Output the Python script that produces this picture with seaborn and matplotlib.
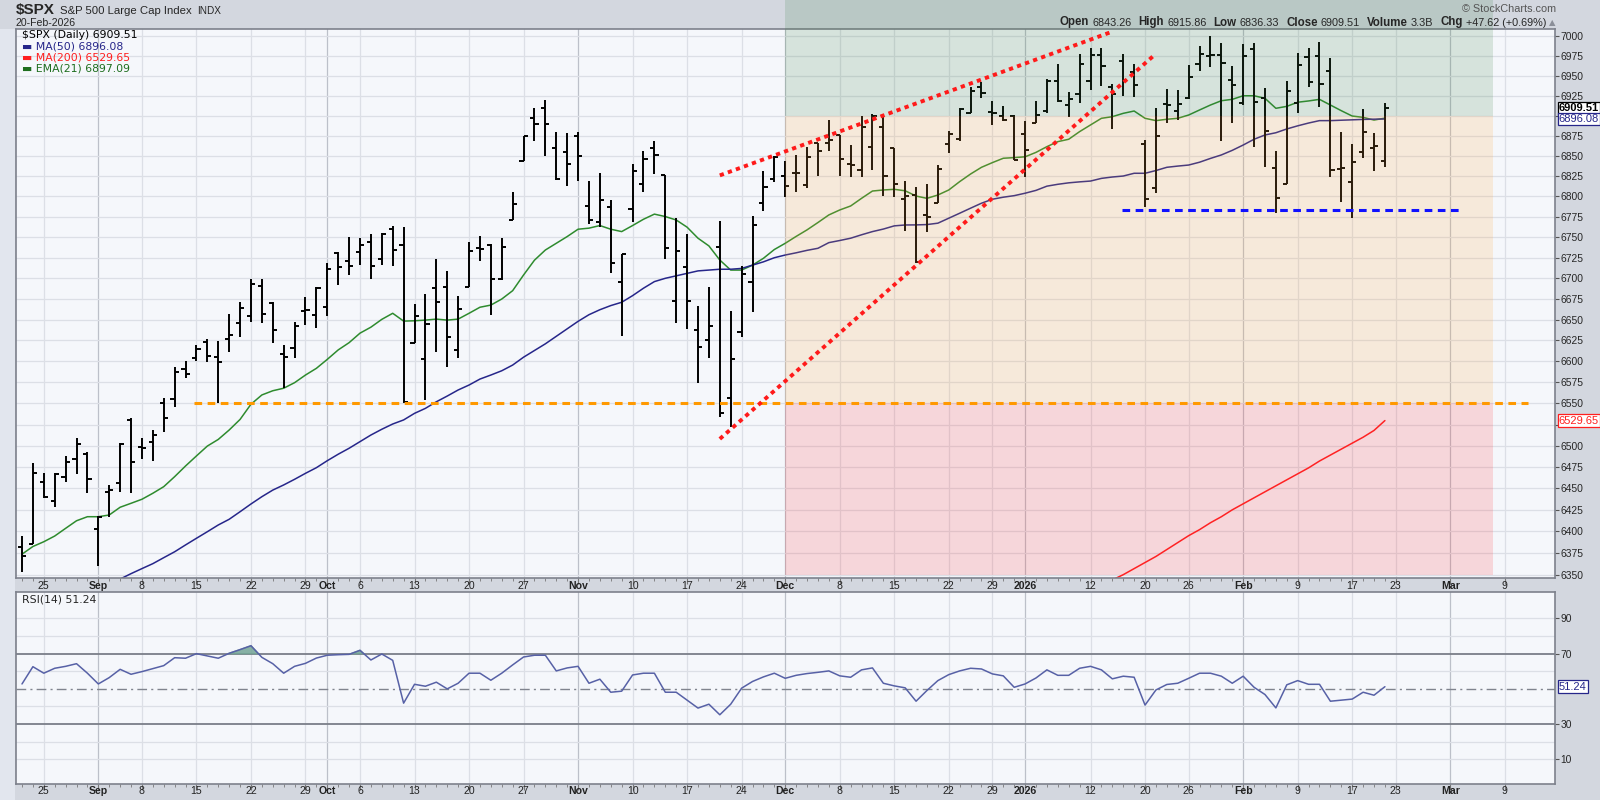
import numpy as np
import pandas as pd
import matplotlib
matplotlib.use("Agg")
import matplotlib.pyplot as plt
import matplotlib.ticker as mticker
import matplotlib.transforms as mtrans
from matplotlib.patches import Rectangle
import seaborn as sns

# ---------------- data ----------------
holidays = ['2025-09-01', '2025-11-27', '2025-12-25', '2026-01-01', '2026-01-19', '2026-02-16']

bar_open = [6381.5, 6385.0, 6457.8, 6435.5, 6462.9, 6484.0, 6490.2, 6402.3, 6446.0, 6456.6,
            6530.0, 6498.0, 6504.0, 6550.0, 6554.7, 6590.5, 6603.6, 6623.6, 6605.5, 6626.4,
            6646.3, 6654.3, 6691.0, 6670.4, 6608.7, 6615.7, 6660.0, 6655.5, 6664.8, 6730.3,
            6721.4, 6732.3, 6744.6, 6723.0, 6759.6, 6740.4, 6622.4, 6602.4, 6688.0, 6689.2,
            6613.7, 6689.2, 6736.5, 6740.4, 6698.8, 6771.0, 6843.8, 6896.9, 6909.4, 6859.5,
            6855.0, 6875.0, 6788.4, 6768.9, 6787.6, 6695.0, 6784.2, 6815.0, 6860.0, 6826.6,
            6672.5, 6713.3, 6637.1, 6625.6, 6737.7, 6556.0, 6635.6, 6695.9, 6792.5, 6821.2,
            6825.0, 6829.4, 6814.3, 6866.6, 6865.7, 6875.8, 6840.2, 6832.6, 6860.7, 6885.6,
            6860.3, 6797.0, 6801.8, 6777.2, 6791.4, 6864.9, 6870.7, 6903.1, 6935.6, 6904.4,
            6899.7, 6900.0, 6877.9, 6891.3, 6906.4, 6943.3, 6913.5, 6927.2, 6943.7, 6976.4,
            6935.6, 6969.0, 6955.0, 6864.6, 6810.3, 6915.0, 6906.4, 6921.9, 6964.7, 6975.0,
            6976.4, 6945.2, 6916.5, 6983.6, 6921.9, 6834.7, 6815.0, 6916.5, 6973.5, 6975.0,
            6956.6, 6833.8, 6818.3, 6854.6, 6860.0, 6843.26]
bar_high = [6394.6, 6479.3, 6467.6, 6468.3, 6487.9, 6508.7, 6492.2, 6417.8, 6453.9, 6502.8,
            6532.3, 6508.7, 6518.5, 6556.0, 6592.9, 6600.4, 6619.6, 6626.4, 6624.0, 6656.7,
            6671.0, 6699.0, 6699.0, 6671.6, 6619.6, 6647.5, 6677.0, 6689.9, 6718.2, 6731.6,
            6750.0, 6748.7, 6753.9, 6754.7, 6763.7, 6762.0, 6668.9, 6681.0, 6723.0, 6708.7,
            6678.5, 6744.6, 6751.5, 6741.7, 6748.7, 6805.5, 6874.8, 6909.4, 6919.8, 6879.3,
            6878.0, 6880.0, 6819.0, 6829.5, 6795.6, 6729.5, 6840.0, 6855.7, 6868.6, 6826.6,
            6773.1, 6753.9, 6666.6, 6689.2, 6769.9, 6660.5, 6714.5, 6776.0, 6831.7, 6850.0,
            6843.2, 6851.3, 6861.6, 6866.6, 6894.7, 6875.8, 6863.6, 6899.7, 6902.3, 6899.7,
            6860.3, 6819.0, 6811.4, 6815.4, 6839.0, 6880.9, 6909.4, 6935.6, 6942.6, 6918.9,
            6912.3, 6901.0, 6894.0, 6918.9, 6946.7, 6964.7, 6930.2, 6977.6, 6984.9, 6984.9,
            6940.0, 6977.6, 6965.6, 6869.9, 6909.4, 6933.3, 6932.5, 6963.5, 6988.1, 7000.8,
            6991.1, 6962.3, 6990.2, 6991.1, 6934.6, 6856.0, 6943.3, 6979.3, 6984.9, 6992.3,
            6972.3, 6880.3, 6864.6, 6908.1, 6878.0, 6915.86]
bar_low = [6353.4, 6385.0, 6438.3, 6428.5, 6457.8, 6466.8, 6444.9, 6360.3, 6417.0, 6446.0,
           6444.2, 6484.0, 6482.4, 6516.5, 6545.3, 6579.8, 6600.7, 6599.5, 6550.0, 6611.6,
           6629.5, 6647.5, 6645.5, 6621.6, 6567.9, 6603.6, 6643.6, 6640.2, 6654.7, 6692.0,
           6704.0, 6716.2, 6699.0, 6716.2, 6715.3, 6551.0, 6621.6, 6553.5, 6611.6, 6593.5,
           6603.6, 6689.2, 6721.4, 6655.5, 6698.0, 6771.0, 6843.8, 6869.0, 6850.0, 6820.3,
           6813.2, 6819.5, 6766.0, 6762.7, 6706.6, 6630.7, 6768.9, 6805.8, 6827.7, 6723.4,
           6646.3, 6638.5, 6573.8, 6603.6, 6533.4, 6522.4, 6629.5, 6659.6, 6782.7, 6818.3,
           6798.9, 6805.8, 6810.2, 6825.3, 6856.0, 6825.6, 6823.6, 6823.6, 6832.6, 6800.8,
           6799.6, 6757.9, 6719.0, 6756.7, 6791.4, 6854.2, 6869.0, 6903.1, 6921.9, 6888.4,
           6894.0, 6845.0, 6823.6, 6890.5, 6903.1, 6917.7, 6898.1, 6916.5, 6932.7, 6936.8,
           6883.3, 6925.0, 6923.0, 6787.6, 6804.2, 6891.3, 6894.7, 6920.6, 6956.4, 6961.5,
           6869.0, 6891.3, 6913.5, 6860.7, 6836.5, 6779.3, 6815.0, 6903.9, 6935.6, 6910.6,
           6823.6, 6793.7, 6773.8, 6848.0, 6831.7, 6836.33]
bar_close = [6371.4, 6467.6, 6439.5, 6466.5, 6481.2, 6501.6, 6460.6, 6417.0, 6448.0, 6501.6,
             6481.2, 6497.0, 6512.6, 6532.3, 6587.0, 6585.0, 6614.5, 6606.3, 6599.5, 6631.5,
             6664.4, 6692.8, 6656.7, 6637.6, 6604.8, 6642.7, 6661.2, 6688.7, 6711.3, 6714.0,
             6715.3, 6740.4, 6715.0, 6753.9, 6734.4, 6552.0, 6654.3, 6644.7, 6671.0, 6628.6,
             6663.2, 6733.6, 6735.3, 6698.8, 6737.7, 6791.0, 6874.8, 6889.8, 6889.8, 6821.2,
             6840.0, 6850.0, 6771.0, 6795.6, 6719.0, 6729.5, 6831.7, 6846.0, 6851.0, 6736.5,
             6733.5, 6672.5, 6617.7, 6642.5, 6539.0, 6602.4, 6705.1, 6765.0, 6811.4, 6848.4,
             6812.6, 6828.6, 6848.4, 6856.0, 6869.9, 6846.0, 6839.1, 6885.6, 6899.7, 6825.6,
             6815.0, 6800.0, 6720.2, 6775.1, 6833.8, 6877.9, 6908.1, 6931.4, 6928.1, 6903.6,
             6894.7, 6845.0, 6857.5, 6901.0, 6943.7, 6918.9, 6920.6, 6964.7, 6976.4, 6962.3,
             6927.2, 6944.5, 6938.0, 6796.6, 6874.5, 6913.0, 6915.0, 6948.4, 6977.6, 6977.0,
             6966.7, 6938.0, 6975.5, 6917.7, 6881.3, 6797.7, 6930.7, 6963.6, 6941.8, 6940.0,
             6832.6, 6835.6, 6842.0, 6880.3, 6861.9, 6909.51]

ema21 = [6373.6, 6382.5, 6388.0, 6394.6, 6403.5, 6412.3, 6417.0, 6417.0, 6419.0, 6428.0,
         6432.6, 6437.3, 6444.3, 6452.0, 6463.7, 6476.2, 6488.0, 6499.6, 6507.4, 6518.5,
         6531.0, 6549.0, 6560.0, 6565.0, 6568.0, 6574.6, 6583.7, 6591.7, 6602.4, 6613.7,
         6622.4, 6633.8, 6641.0, 6650.4, 6657.7, 6648.3, 6648.7, 6649.5, 6650.7, 6649.5,
         6650.7, 6657.7, 6665.0, 6667.6, 6674.9, 6685.0, 6704.0, 6722.0, 6734.4, 6742.6,
         6750.8, 6759.8, 6761.1, 6764.3, 6759.8, 6756.9, 6764.3, 6772.0, 6778.3, 6775.3,
         6771.1, 6762.3, 6748.8, 6739.4, 6722.2, 6710.0, 6710.0, 6716.0, 6724.3, 6735.0,
         6742.6, 6751.0, 6759.0, 6768.0, 6777.3, 6783.4, 6788.3, 6797.7, 6806.7, 6808.0,
         6808.8, 6807.0, 6800.5, 6797.7, 6801.8, 6808.0, 6818.3, 6827.7, 6836.0, 6841.8,
         6847.2, 6848.0, 6849.0, 6854.5, 6861.6, 6867.8, 6870.8, 6880.3, 6888.6, 6896.9,
         6898.9, 6903.1, 6906.0, 6896.9, 6894.0, 6895.7, 6896.9, 6901.0, 6907.3, 6913.5,
         6918.9, 6920.6, 6925.1, 6925.1, 6921.9, 6909.4, 6911.8, 6917.0, 6918.6, 6920.6,
         6913.5, 6906.4, 6899.7, 6898.1, 6894.7, 6897.09]

ma50_first_bar = 9
ma50 = [6345.0, 6351.2, 6357.0, 6362.7, 6369.6, 6376.4, 6384.3, 6392.0, 6399.6, 6407.4,
        6414.0, 6422.8, 6431.8, 6440.3, 6448.0, 6454.0, 6460.6, 6467.6, 6474.2, 6482.4,
        6490.0, 6497.0, 6504.8, 6512.6, 6519.4, 6525.6, 6530.4, 6538.2, 6544.1, 6551.9,
        6558.7, 6565.9, 6571.8, 6578.9, 6583.7, 6588.8, 6595.6, 6605.0, 6613.0, 6621.0,
        6630.0, 6639.0, 6648.0, 6656.0, 6662.0, 6667.0, 6671.0, 6679.0, 6688.0, 6696.0,
        6700.0, 6703.0, 6706.0, 6709.0, 6710.0, 6711.0, 6711.0, 6712.0, 6716.0, 6720.0,
        6725.0, 6728.3, 6731.0, 6734.0, 6736.5, 6743.4, 6746.0, 6748.8, 6753.0, 6756.9,
        6760.0, 6763.9, 6765.0, 6765.1, 6765.5, 6767.2, 6773.3, 6779.4, 6785.6, 6791.7,
        6796.6, 6799.1, 6801.0, 6804.0, 6807.5, 6812.7, 6815.0, 6816.8, 6818.0, 6819.0,
        6822.3, 6824.0, 6825.2, 6828.6, 6828.6, 6832.0, 6836.0, 6837.5, 6838.8, 6842.3,
        6847.0, 6851.3, 6857.0, 6863.6, 6870.8, 6876.1, 6878.9, 6883.6, 6887.5, 6891.0,
        6894.0, 6894.0, 6894.5, 6895.0, 6895.5, 6895.8, 6896.08]

ma200_first_bar = 100
ma200 = [6344.0, 6350.0, 6357.0, 6364.0, 6371.0, 6379.0, 6387.0, 6395.0, 6402.0, 6410.0,
         6417.0, 6425.0, 6432.0, 6439.0, 6446.0, 6453.0, 6460.0, 6467.0, 6474.0, 6482.0,
         6489.0, 6496.0, 6503.0, 6510.0, 6518.0, 6529.65]

rsi14 = [52.8, 62.6, 58.9, 61.7, 62.8, 64.3, 58.9, 52.8, 56.4, 61.1,
         58.3, 59.8, 61.5, 63.2, 67.7, 67.4, 70.0, 68.7, 67.4, 70.2,
         72.3, 74.5, 67.9, 64.3, 58.9, 62.8, 64.5, 67.5, 69.1, 69.4,
         69.6, 71.9, 66.4, 69.8, 66.2, 41.9, 52.6, 51.5, 53.8, 50.0,
         53.2, 58.9, 58.9, 54.9, 58.9, 63.6, 68.1, 69.1, 69.1, 60.2,
         61.9, 62.8, 53.2, 55.5, 48.1, 48.7, 57.9, 58.9, 58.9, 48.1,
         48.1, 43.6, 39.1, 41.3, 35.3, 41.3, 50.4, 54.2, 56.8, 58.9,
         56.0, 57.7, 58.7, 59.4, 60.2, 57.4, 56.6, 60.8, 61.9, 53.2,
         51.7, 50.6, 43.0, 49.1, 54.7, 58.1, 60.2, 61.7, 61.3, 58.5,
         57.4, 50.9, 52.8, 56.2, 60.8, 57.7, 57.7, 61.7, 62.8, 60.8,
         55.7, 57.2, 56.6, 40.8, 49.4, 52.5, 53.2, 56.0, 58.9, 58.9,
         57.2, 53.2, 57.2, 50.9, 46.8, 39.2, 52.3, 54.7, 52.6, 52.6,
         43.0, 43.6, 44.2, 48.1, 46.4, 51.24]

tick_dates = ['2025-08-25', '2025-09-02', '2025-09-08', '2025-09-15', '2025-09-22', '2025-09-29',
              '2025-10-01', '2025-10-06', '2025-10-13', '2025-10-20', '2025-10-27', '2025-11-03',
              '2025-11-10', '2025-11-17', '2025-11-24', '2025-12-01', '2025-12-08', '2025-12-15',
              '2025-12-22', '2025-12-29', '2026-01-02', '2026-01-12', '2026-01-20', '2026-01-26',
              '2026-02-02', '2026-02-09', '2026-02-17', '2026-02-23', '2026-03-02', '2026-03-09']
tick_labels = ['25', 'Sep', '8', '15', '22', '29', 'Oct', '6', '13', '20', '27', 'Nov', '10', '17', '24',
               'Dec', '8', '15', '22', '29', '2026', '12', '20', '26', 'Feb', '9', '17', '23', 'Mar', '9']
price_levels = list(range(6350, 7001, 25))
covered_levels = [6525, 6900]   # hidden behind the price tags on the right
rsi_levels = [10, 30, 70, 90]

# annotations drawn on the chart (bar index, price)
support_line = ([15.8, 138.1], [6550, 6550])
feb_support_line = ([100.9, 132.0], [6783, 6783])
upper_trend = ([64.0, 99.8], [6826, 7005])
lower_trend = ([64.0, 103.75], [6508, 6975])
zone_bars = [70, 134.9]
zone_bounds = [6350, 6550, 6900, 7200]

# ---------------- drawing ----------------
sns.set_theme(style="white")
plt.rcParams['font.family'] = ['DejaVu Sans']

W, H = 1600, 800
fig = plt.figure(figsize=(16, 8), dpi=100, facecolor='#d3d7df')


def fx(p):
    return p / W


def fy(p):
    return 1 - p / H


days = pd.bdate_range('2025-08-21', '2026-03-20')
days = days[~days.isin(pd.to_datetime(holidays))]
xb = np.arange(len(bar_close))
tick_pos = days.get_indexer(pd.to_datetime(tick_dates))
is_month = [not lab.isdigit() or len(lab) == 4 for lab in tick_labels]

ax = fig.add_axes([fx(16), fy(578), fx(1555) - fx(16), fy(29) - fy(578)])
rs = fig.add_axes([fx(16), fy(784), fx(1555) - fx(16), fy(592) - fy(784)])
fig.add_artist(Rectangle((0, 0), fx(15), fy(29), transform=fig.transFigure,
                         fc='#e2e6ee', ec='none'))

for a in (ax, rs):
    a.set_facecolor('#f5f7fb')
    a.set_xlim(-0.55, 140.6)
    for s in a.spines.values():
        s.set_color('#7d818c')
        s.set_linewidth(1.2)
    for p, m in zip(tick_pos, is_month):
        a.axvline(p, color='#bcc0c9' if m else '#dcdfe6', lw=0.9, zorder=0.5)

# price panel
ax.set_yscale('log')
ax.set_ylim(6346.2, 7009.3)
for lv in price_levels:
    ax.axhline(lv, color='#dcdfe6', lw=0.9, zorder=0.5)
ax.yaxis.set_major_locator(mticker.FixedLocator(price_levels))
ax.yaxis.set_minor_locator(mticker.NullLocator())
ax.yaxis.set_major_formatter(mticker.FuncFormatter(
    lambda v, _: '' if round(v) in covered_levels else f'{v:.0f}'))
ax.tick_params(axis='y', which='major', left=False, right=True, labelleft=False, labelright=True,
               length=3, width=0.8, color='#555', labelsize=7.4, pad=1)
for t in ax.get_yticklabels():
    t.set_family('Liberation Sans')
ax.set_xticks(tick_pos)
ax.set_xticks(xb, minor=True)
ax.tick_params(axis='x', which='both', bottom=True, labelbottom=False, color='#777')
ax.tick_params(axis='x', which='major', length=4, width=0.8)
ax.tick_params(axis='x', which='minor', length=2, width=0.6)
ax.set_xlabel('')
ax.set_ylabel('')

ax.vlines(xb, bar_low, bar_high, color='black', lw=1.4, zorder=3)
ax.hlines(bar_open, xb - 0.38, xb, color='black', lw=1.4, zorder=3)
ax.hlines(bar_close, xb, xb + 0.38, color='black', lw=1.4, zorder=3)

sns.lineplot(x=xb, y=ema21, ax=ax, color='#2e8b2e', lw=1.1, zorder=2)
sns.lineplot(x=xb[ma50_first_bar:], y=ma50, ax=ax, color='#26268a', lw=1.1, zorder=2)
sns.lineplot(x=xb[ma200_first_bar:], y=ma200, ax=ax, color='#ff1f1f', lw=1.1, zorder=2)

zone_cols = ['#ff3539', '#ffa53c', '#3e8145']
for lo, hi, col in zip(zone_bounds[:-1], zone_bounds[1:], zone_cols):
    ax.add_patch(Rectangle((zone_bars[0], lo), zone_bars[1] - zone_bars[0], hi - lo,
                           fc=col, alpha=0.17, ec='none', zorder=5))

ax.plot(*support_line, color='#ff9900', lw=2.2, ls=(0, (2.5, 1.8)), zorder=6)
ax.plot(*feb_support_line, color='#1010ff', lw=2.2, ls=(0, (2.5, 1.8)), zorder=6)
ax.plot(*upper_trend, color='#ff1a1a', lw=2.8, ls=(0, (1.1, 1.1)), zorder=6)
ax.plot(*lower_trend, color='#ff1a1a', lw=2.8, ls=(0, (1.1, 1.1)), zorder=6)

# green zone continues through the title strip
fig.canvas.draw()
zx0 = ax.transData.transform((zone_bars[0], 7000))[0]
zx1 = ax.transData.transform((zone_bars[1], 7000))[0]
fig.add_artist(Rectangle((fx(zx0), fy(29)), fx(zx1 - zx0), 29 / H, transform=fig.transFigure,
                         fc=zone_cols[2], alpha=0.17, ec='none'))

# in-plot legend
leg = [('\\$SPX (Daily) 6909.51', 'black'), ('▬ MA(50) 6896.08', '#26268a'),
       ('▬ MA(200) 6529.65', '#ff1f1f'), ('▬ EMA(21) 6897.09', '#1e6e1e')]
for i, (s, c) in enumerate(leg):
    ax.text(fx(6), 1 - (6 + 11.3 * i) / 549, s, transform=ax.transAxes, color=c, fontsize=7.8,
            va='center', ha='left', zorder=10)

# right price tags
yblend = mtrans.blended_transform_factory(ax.transAxes, ax.transData)
for val, txt, col, wt in [(6909.51, '6909.51', 'black', 'bold'), (6896.08, '6896.08', '#26268a', 'normal'),
                          (6529.65, '6529.65', '#ff1f1f', 'normal')]:
    ax.text(1.0025, val, txt, transform=yblend, color=col, fontsize=8,
            fontweight=wt, family='Liberation Sans', va='center', ha='left', zorder=12, clip_on=False,
            bbox=dict(boxstyle='square,pad=0.12', fc='white', ec=col, lw=0.9))

# date labels between / below panels
for a, off in ((ax, -8), (rs, -7)):
    tr = mtrans.offset_copy(mtrans.blended_transform_factory(a.transData, a.transAxes), fig=fig,
                            y=off, units='dots')
    for p, lab, m in zip(tick_pos, tick_labels, is_month):
        a.text(p, 0, lab, transform=tr, ha='center', va='center', fontsize=7.6,
               fontweight='bold' if m else 'normal', family='Liberation Sans', color='#222', clip_on=False)

# RSI panel
rs.set_ylim(-4, 105)
for lv in [10, 20, 40, 60, 80, 90]:
    rs.axhline(lv, color='#dcdfe6', lw=0.9, zorder=0.5)
rs.axhline(70, color='#7a7e88', lw=1.3, zorder=1)
rs.axhline(30, color='#7a7e88', lw=1.3, zorder=1)
rs.axhline(50, color='#80848e', lw=1.0, ls=(0, (7, 3, 1.5, 3)), zorder=1)
rsi_arr = np.array(rsi14)
rs.fill_between(xb, 70, rsi_arr, where=rsi_arr > 70, interpolate=True, color='#74a596', alpha=0.85, zorder=2)
sns.lineplot(x=xb, y=rsi14, ax=rs, color='#5761a6', lw=1.1, zorder=3)
rs.set_yticks(rsi_levels)
rs.yaxis.set_major_formatter(mticker.FuncFormatter(lambda v, _: f'{v:.0f}'))
rs.tick_params(axis='y', left=False, right=True, labelleft=False, labelright=True, length=3, width=0.8,
               color='#555', labelsize=7.4, pad=1)
for t in rs.get_yticklabels():
    t.set_family('Liberation Sans')
rs.set_xticks(tick_pos)
rs.set_xticks(xb, minor=True)
rs.tick_params(axis='x', which='both', bottom=True, labelbottom=False, color='#777')
rs.tick_params(axis='x', which='major', length=4, width=0.8)
rs.tick_params(axis='x', which='minor', length=2, width=0.6)
rs.set_xlabel('')
rs.set_ylabel('')
rblend = mtrans.blended_transform_factory(rs.transAxes, rs.transData)
rs.text(1.0025, rsi14[-1], '51.24', transform=rblend, color='#26268a', fontsize=8, family='Liberation Sans',
        va='center', ha='left', zorder=12, clip_on=False,
        bbox=dict(boxstyle='square,pad=0.12', fc='white', ec='#26268a', lw=0.9))
rs.text(fx(6), 1 - 8 / 192, 'RSI(14) 51.24', transform=rs.transAxes, fontsize=7.8, va='center', ha='left')

# title strip
renderer = fig.canvas.get_renderer()
xl = 16
for s, size, wt, dy in [('\\$SPX', 11, 'bold', 10), ('S&P 500 Large Cap Index', 8.2, 'normal', 10.5),
                        ('INDX', 7.2, 'normal', 10.5)]:
    t = fig.text(fx(xl), fy(dy), s, fontsize=size, fontweight=wt, family='Liberation Sans', va='center')
    xl = t.get_window_extent(renderer=renderer).x1 + 5
fig.text(fx(16), fy(22.5), '20-Feb-2026', fontsize=7.6, family='Liberation Sans', va='center')
fig.text(fx(1556), fy(8.5), '© StockCharts.com', fontsize=7.8, family='Liberation Sans', color='#555',
         va='center', ha='right')

pieces = [('Open', True), ('6843.26', False), ('High', True), ('6915.86', False), ('Low', True),
          ('6836.33', False), ('Close', True), ('6909.51', False), ('Volume', True), ('3.3B', False),
          ('Chg', True), ('+47.62 (+0.69%)', False)]
xr = 1546
fig.text(fx(1549), fy(22.5), '▲', fontsize=6, color='#8a8e98', va='center', ha='left')
for s, bold in reversed(pieces):
    t = fig.text(fx(xr), fy(22.5), s, fontsize=8.3 if bold else 7.8, fontweight='bold' if bold else 'normal',
                 family='Liberation Sans', va='center', ha='right')
    bb = t.get_window_extent(renderer=renderer)
    xr = bb.x0 - (3 if not bold else 7)

fig.savefig('out.png', dpi=100, facecolor=fig.get_facecolor())
